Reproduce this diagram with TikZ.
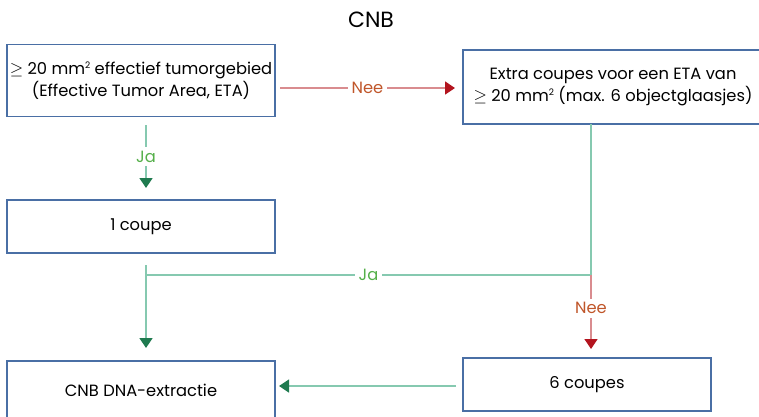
\documentclass[tikz,border=0pt]{standalone}
\usepackage{fontspec}
\setmainfont{Poppins}
\usetikzlibrary{arrows.meta}
\definecolor{boxblue}{HTML}{4A6FA5}
\definecolor{lineGreen}{HTML}{86C9B0}
\definecolor{tipGreen}{HTML}{1F7A4F}
\definecolor{textGreen}{HTML}{55B04A}
\definecolor{lineRed}{HTML}{D98C8F}
\definecolor{tipRed}{HTML}{B3141E}
\definecolor{textRed}{HTML}{C0562A}
\newcommand{\sqmm}{mm\raisebox{0.7ex}{\fontsize{9}{9}\selectfont 2}}
\begin{document}
\begin{tikzpicture}[x=1pt,y=-1pt,font=\fontsize{16.3}{22}\selectfont,
    stepbox/.style={draw=boxblue,line width=1.1pt,align=center,inner sep=0pt},
    yes/.style={draw=lineGreen,line width=1.4pt,-{Triangle[color=tipGreen,width=13pt,length=10pt]}},
    no/.style={draw=lineRed,line width=1.4pt,-{Triangle[color=tipRed,width=13pt,length=10pt]}},
    yeslabel/.style={fill=white,text=textGreen,inner sep=4pt},
    nolabel/.style={fill=white,text=textRed,inner sep=4pt}]
    \useasboundingbox (0,0) rectangle (759,416);
    \node (title) at (371,20) {\fontsize{22}{26}\selectfont CNB};
    \node[stepbox,minimum width=268pt,minimum height=72pt] (eta) at (141,80.5) {$\geq$ 20 \sqmm{} effectief tumorgebied\\(Effective Tumor Area, ETA)};
    \node[stepbox,minimum width=300pt,minimum height=74pt] (extra) at (613,87) {Extra coupes voor een ETA van\\$\geq$ 20 \sqmm{} (max. 6 objectglaasjes)};
    \node[stepbox,minimum width=268pt,minimum height=53pt] (one) at (141,226.5) {1 coupe};
    \node[stepbox,minimum width=268pt,minimum height=58pt] (dna) at (141,390) {CNB DNA-extractie};
    \node[stepbox,minimum width=248pt,minimum height=53pt] (six) at (587,384.5) {6 coupes};
    % free ends of the connectors
    \coordinate (etaNo) at (280,88);
    \coordinate (extraIn) at (455,88);
    \coordinate (etaYes) at (146,125);
    \coordinate (oneIn) at (146,188);
    \coordinate (extraOut) at (591,124);
    \coordinate (split) at (591,275);
    \coordinate (sixIn) at (591,349);
    \coordinate (oneOut) at (146,265);
    \coordinate (dnaIn) at (146,348);
    \coordinate (sixOut) at (456,386);
    \coordinate (dnaSide) at (279,386);
    \draw[no] (etaNo) -- node[nolabel] {Nee} (extraIn);
    \draw[yes] (etaYes) -- node[yeslabel] {Ja} (oneIn);
    \draw[draw=lineGreen,line width=1.4pt] (extraOut) -- (split) -- node[yeslabel] {Ja} (split -| oneOut);
    \draw[yes] (oneOut) -- (dnaIn);
    \draw[no] (split) -- node[nolabel,pos=0.45] {Nee} (sixIn);
    \draw[yes] (sixOut) -- (dnaSide);
\end{tikzpicture}
\end{document}
